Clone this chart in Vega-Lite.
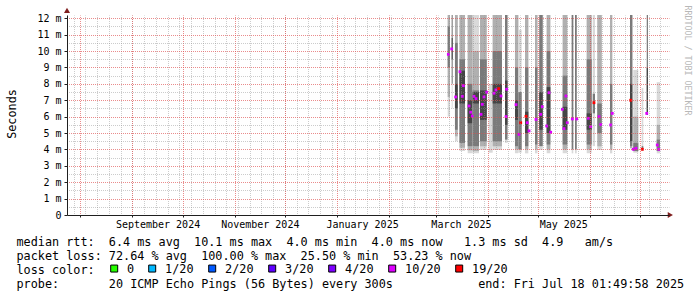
{
  "$schema": "https://vega.github.io/schema/vega-lite/v6.json",
  "width": 602,
  "height": 200,
  "autosize": "none",
  "padding": {"left": 67, "top": 15, "right": 28, "bottom": 82},
  "background": "#ffffff",
  "config": {
    "view": {"stroke": null},
    "font": "DejaVu Sans Mono",
    "axis": {"labelFont": "DejaVu Sans Mono", "titleFont": "DejaVu Sans Mono"},
    "legend": {"labelFont": "DejaVu Sans Mono", "titleFont": "DejaVu Sans Mono"}
  },
  "datasets": {
    "smoke": [
      {"a":"2025-03-08T02:00","b":"2025-03-09T11:00","lo":6.0,"hi":12.2,"band":"L"},
      {"a":"2025-03-08T02:00","b":"2025-03-09T11:00","lo":7.2,"hi":12.2,"band":"M"},
      {"a":"2025-03-08T02:00","b":"2025-03-09T11:00","lo":9.0,"hi":11.5,"band":"D"},
      {"a":"2025-03-10T11:00","b":"2025-03-11T01:00","lo":6.5,"hi":12.2,"band":"L"},
      {"a":"2025-03-10T11:00","b":"2025-03-11T01:00","lo":8.0,"hi":12.2,"band":"D"},
      {"a":"2025-03-10T11:00","b":"2025-03-11T01:00","lo":9.5,"hi":10.8,"band":"K"},
      {"a":"2025-03-12T10:00","b":"2025-03-14T01:00","lo":4.5,"hi":12.2,"band":"L"},
      {"a":"2025-03-12T10:00","b":"2025-03-14T01:00","lo":4.8,"hi":12.2,"band":"M"},
      {"a":"2025-03-12T10:00","b":"2025-03-14T01:00","lo":5.2,"hi":10.5,"band":"D"},
      {"a":"2025-03-12T10:00","b":"2025-03-14T01:00","lo":6.5,"hi":8.0,"band":"K"},
      {"a":"2025-03-15T03:00","b":"2025-03-18T10:00","lo":3.9,"hi":12.2,"band":"L"},
      {"a":"2025-03-15T03:00","b":"2025-03-18T10:00","lo":4.1,"hi":12.2,"band":"M"},
      {"a":"2025-03-15T03:00","b":"2025-03-18T10:00","lo":4.4,"hi":9.5,"band":"D"},
      {"a":"2025-03-15T03:00","b":"2025-03-18T10:00","lo":6.8,"hi":8.8,"band":"K"},
      {"a":"2025-03-20T00:00","b":"2025-03-22T23:00","lo":3.76,"hi":12.2,"band":"L"},
      {"a":"2025-03-20T00:00","b":"2025-03-22T23:00","lo":3.95,"hi":12.2,"band":"M"},
      {"a":"2025-03-20T00:00","b":"2025-03-22T23:00","lo":4.2,"hi":8.0,"band":"D"},
      {"a":"2025-03-20T00:00","b":"2025-03-22T23:00","lo":5.6,"hi":7.0,"band":"K"},
      {"a":"2025-03-22T23:00","b":"2025-03-26T18:00","lo":3.76,"hi":12.2,"band":"L"},
      {"a":"2025-03-22T23:00","b":"2025-03-26T18:00","lo":3.9,"hi":10.0,"band":"M"},
      {"a":"2025-03-22T23:00","b":"2025-03-26T18:00","lo":4.2,"hi":7.6,"band":"D"},
      {"a":"2025-03-22T23:00","b":"2025-03-26T18:00","lo":6.8,"hi":7.5,"band":"K"},
      {"a":"2025-03-27T08:00","b":"2025-03-31T08:00","lo":3.97,"hi":12.2,"band":"L"},
      {"a":"2025-03-27T08:00","b":"2025-03-31T08:00","lo":4.2,"hi":12.2,"band":"M"},
      {"a":"2025-03-27T08:00","b":"2025-03-31T08:00","lo":4.5,"hi":9.5,"band":"D"},
      {"a":"2025-03-27T08:00","b":"2025-03-31T08:00","lo":5.8,"hi":7.6,"band":"K"},
      {"a":"2025-04-01T12:00","b":"2025-04-03T22:00","lo":3.8,"hi":8.0,"band":"L"},
      {"a":"2025-04-03T22:00","b":"2025-04-09T11:00","lo":3.97,"hi":12.2,"band":"L"},
      {"a":"2025-04-03T22:00","b":"2025-04-09T11:00","lo":4.2,"hi":12.2,"band":"M"},
      {"a":"2025-04-03T22:00","b":"2025-04-09T11:00","lo":4.5,"hi":10.0,"band":"D"},
      {"a":"2025-04-03T22:00","b":"2025-04-09T11:00","lo":6.8,"hi":8.0,"band":"K"},
      {"a":"2025-04-11T06:00","b":"2025-04-12T18:00","lo":4.4,"hi":12.2,"band":"L"},
      {"a":"2025-04-11T06:00","b":"2025-04-12T18:00","lo":4.6,"hi":12.2,"band":"D"},
      {"a":"2025-04-11T06:00","b":"2025-04-12T18:00","lo":5.5,"hi":8.2,"band":"K"},
      {"a":"2025-04-17T05:00","b":"2025-04-19T05:00","lo":3.76,"hi":12.2,"band":"L"},
      {"a":"2025-04-17T05:00","b":"2025-04-19T05:00","lo":4.0,"hi":12.2,"band":"M"},
      {"a":"2025-04-17T05:00","b":"2025-04-19T05:00","lo":4.2,"hi":9.0,"band":"D"},
      {"a":"2025-04-17T05:00","b":"2025-04-19T05:00","lo":5.8,"hi":7.0,"band":"K"},
      {"a":"2025-04-19T05:00","b":"2025-04-21T05:00","lo":3.8,"hi":11.3,"band":"L"},
      {"a":"2025-04-19T05:00","b":"2025-04-21T05:00","lo":4.0,"hi":7.5,"band":"D"},
      {"a":"2025-04-23T05:00","b":"2025-04-25T04:00","lo":3.76,"hi":12.2,"band":"L"},
      {"a":"2025-04-23T05:00","b":"2025-04-25T04:00","lo":4.0,"hi":12.2,"band":"M"},
      {"a":"2025-04-23T05:00","b":"2025-04-25T04:00","lo":4.2,"hi":9.0,"band":"D"},
      {"a":"2025-04-23T05:00","b":"2025-04-25T04:00","lo":5.0,"hi":6.3,"band":"K"},
      {"a":"2025-04-29T04:00","b":"2025-04-30T15:00","lo":3.76,"hi":12.2,"band":"L"},
      {"a":"2025-04-29T04:00","b":"2025-04-30T15:00","lo":4.0,"hi":12.2,"band":"M"},
      {"a":"2025-04-29T04:00","b":"2025-04-30T15:00","lo":4.3,"hi":9.0,"band":"D"},
      {"a":"2025-05-01T17:00","b":"2025-05-03T18:00","lo":3.97,"hi":12.2,"band":"L"},
      {"a":"2025-05-01T17:00","b":"2025-05-03T18:00","lo":4.2,"hi":12.2,"band":"D"},
      {"a":"2025-05-01T17:00","b":"2025-05-03T18:00","lo":5.2,"hi":7.5,"band":"K"},
      {"a":"2025-05-06T03:00","b":"2025-05-08T07:00","lo":3.76,"hi":12.2,"band":"L"},
      {"a":"2025-05-06T03:00","b":"2025-05-08T07:00","lo":4.0,"hi":12.2,"band":"M"},
      {"a":"2025-05-06T03:00","b":"2025-05-08T07:00","lo":4.3,"hi":10.0,"band":"D"},
      {"a":"2025-05-06T03:00","b":"2025-05-08T07:00","lo":5.0,"hi":7.8,"band":"K"},
      {"a":"2025-05-15T16:00","b":"2025-05-18T10:00","lo":3.76,"hi":12.2,"band":"L"},
      {"a":"2025-05-15T16:00","b":"2025-05-18T10:00","lo":4.0,"hi":12.2,"band":"M"},
      {"a":"2025-05-15T16:00","b":"2025-05-18T10:00","lo":4.3,"hi":8.5,"band":"D"},
      {"a":"2025-05-15T16:00","b":"2025-05-18T10:00","lo":5.2,"hi":6.6,"band":"K"},
      {"a":"2025-05-21T01:00","b":"2025-05-22T00:00","lo":3.76,"hi":12.2,"band":"L"},
      {"a":"2025-05-21T01:00","b":"2025-05-22T00:00","lo":4.0,"hi":12.2,"band":"D"},
      {"a":"2025-05-23T00:00","b":"2025-05-24T01:00","lo":3.76,"hi":12.2,"band":"L"},
      {"a":"2025-05-23T00:00","b":"2025-05-24T01:00","lo":4.0,"hi":12.2,"band":"D"},
      {"a":"2025-05-30T00:00","b":"2025-06-01T23:00","lo":3.76,"hi":12.2,"band":"L"},
      {"a":"2025-05-30T00:00","b":"2025-06-01T23:00","lo":4.0,"hi":12.2,"band":"M"},
      {"a":"2025-05-30T00:00","b":"2025-06-01T23:00","lo":4.3,"hi":9.5,"band":"D"},
      {"a":"2025-05-30T00:00","b":"2025-06-01T23:00","lo":5.2,"hi":6.2,"band":"K"},
      {"a":"2025-06-02T14:00","b":"2025-06-03T23:00","lo":4.2,"hi":12.2,"band":"L"},
      {"a":"2025-06-02T14:00","b":"2025-06-03T23:00","lo":6.2,"hi":7.4,"band":"D"},
      {"a":"2025-06-05T08:00","b":"2025-06-07T23:00","lo":3.97,"hi":12.2,"band":"L"},
      {"a":"2025-06-05T08:00","b":"2025-06-07T23:00","lo":4.2,"hi":12.2,"band":"M"},
      {"a":"2025-06-05T08:00","b":"2025-06-07T23:00","lo":5.0,"hi":6.8,"band":"D"},
      {"a":"2025-06-12T21:00","b":"2025-06-14T06:00","lo":3.76,"hi":12.2,"band":"L"},
      {"a":"2025-06-12T21:00","b":"2025-06-14T06:00","lo":4.0,"hi":12.2,"band":"M"},
      {"a":"2025-06-12T21:00","b":"2025-06-14T06:00","lo":4.3,"hi":8.0,"band":"D"},
      {"a":"2025-06-24T20:00","b":"2025-06-26T05:00","lo":4.07,"hi":12.2,"band":"M"},
      {"a":"2025-06-24T20:00","b":"2025-06-26T05:00","lo":4.2,"hi":12.2,"band":"D"},
      {"a":"2025-06-24T20:00","b":"2025-06-26T05:00","lo":4.5,"hi":8.0,"band":"K"},
      {"a":"2025-06-26T19:00","b":"2025-06-29T18:00","lo":3.8,"hi":8.85,"band":"L"},
      {"a":"2025-06-26T19:00","b":"2025-06-29T18:00","lo":3.9,"hi":6.0,"band":"M"},
      {"a":"2025-06-26T19:00","b":"2025-06-29T18:00","lo":3.9,"hi":4.4,"band":"D"},
      {"a":"2025-07-01T19:00","b":"2025-07-02T18:00","lo":3.9,"hi":7.75,"band":"L"},
      {"a":"2025-07-01T19:00","b":"2025-07-02T18:00","lo":3.95,"hi":4.2,"band":"D"},
      {"a":"2025-07-04T19:00","b":"2025-07-05T13:00","lo":6.1,"hi":12.2,"band":"D"},
      {"a":"2025-07-04T19:00","b":"2025-07-05T13:00","lo":6.1,"hi":9.0,"band":"K"},
      {"a":"2025-07-10T18:00","b":"2025-07-12T17:00","lo":3.76,"hi":8.1,"band":"L"},
      {"a":"2025-07-10T18:00","b":"2025-07-12T17:00","lo":3.9,"hi":5.5,"band":"M"},
      {"a":"2025-07-10T18:00","b":"2025-07-12T17:00","lo":3.9,"hi":4.6,"band":"D"}
    ],
    "median": [
      {"t":"2025-03-08T11:00","med":9.80,"loss":"10/20"},
      {"t":"2025-03-10T11:00","med":10.13,"loss":"10/20"},
      {"t":"2025-03-12T20:00","med":7.20,"loss":"10/20"},
      {"t":"2025-03-15T10:00","med":8.74,"loss":"10/20"},
      {"t":"2025-03-16T19:00","med":7.24,"loss":"10/20"},
      {"t":"2025-03-17T09:00","med":7.89,"loss":"10/20"},
      {"t":"2025-03-20T19:00","med":6.65,"loss":"10/20"},
      {"t":"2025-03-21T19:00","med":6.27,"loss":"10/20"},
      {"t":"2025-03-22T18:00","med":6.04,"loss":"10/20"},
      {"t":"2025-03-23T18:00","med":7.24,"loss":"10/20"},
      {"t":"2025-03-24T23:00","med":7.10,"loss":"10/20"},
      {"t":"2025-03-27T23:00","med":6.14,"loss":"10/20"},
      {"t":"2025-03-28T17:00","med":6.75,"loss":"10/20"},
      {"t":"2025-03-29T18:00","med":7.20,"loss":"10/20"},
      {"t":"2025-03-31T08:00","med":7.49,"loss":"10/20"},
      {"t":"2025-04-04T17:00","med":7.43,"loss":"10/20"},
      {"t":"2025-04-05T21:00","med":7.63,"loss":"10/20"},
      {"t":"2025-04-07T12:00","med":7.71,"loss":"19/20"},
      {"t":"2025-04-08T21:00","med":7.26,"loss":"10/20"},
      {"t":"2025-04-11T21:00","med":6.00,"loss":"10/20"},
      {"t":"2025-04-12T06:00","med":7.67,"loss":"10/20"},
      {"t":"2025-04-17T20:00","med":6.73,"loss":"10/20"},
      {"t":"2025-04-19T15:00","med":4.92,"loss":"10/20"},
      {"t":"2025-04-20T15:00","med":5.63,"loss":"19/20"},
      {"t":"2025-04-23T19:00","med":6.02,"loss":"19/20"},
      {"t":"2025-04-24T13:00","med":5.63,"loss":"10/20"},
      {"t":"2025-04-25T14:00","med":5.13,"loss":"10/20"},
      {"t":"2025-04-29T18:00","med":5.83,"loss":"10/20"},
      {"t":"2025-05-02T13:00","med":6.14,"loss":"10/20"},
      {"t":"2025-05-03T12:00","med":6.61,"loss":"10/20"},
      {"t":"2025-05-06T03:00","med":5.43,"loss":"10/20"},
      {"t":"2025-05-07T12:00","med":7.46,"loss":"10/20"},
      {"t":"2025-05-08T12:00","med":5.05,"loss":"10/20"},
      {"t":"2025-05-15T11:00","med":6.45,"loss":"10/20"},
      {"t":"2025-05-16T11:00","med":5.27,"loss":"10/20"},
      {"t":"2025-05-17T15:00","med":7.26,"loss":"10/20"},
      {"t":"2025-05-18T10:00","med":5.63,"loss":"10/20"},
      {"t":"2025-05-21T10:00","med":5.86,"loss":"10/20"},
      {"t":"2025-05-24T01:00","med":5.86,"loss":"10/20"},
      {"t":"2025-05-30T23:00","med":5.90,"loss":"10/20"},
      {"t":"2025-06-01T09:00","med":5.39,"loss":"10/20"},
      {"t":"2025-06-03T08:00","med":6.85,"loss":"19/20"},
      {"t":"2025-06-06T08:00","med":6.00,"loss":"10/20"},
      {"t":"2025-06-07T08:00","med":5.51,"loss":"10/20"},
      {"t":"2025-06-13T07:00","med":5.49,"loss":"10/20"},
      {"t":"2025-06-14T06:00","med":6.20,"loss":"10/20"},
      {"t":"2025-06-25T06:00","med":7.00,"loss":"19/20"},
      {"t":"2025-06-26T19:00","med":4.01,"loss":"10/20"},
      {"t":"2025-06-28T10:00","med":4.07,"loss":"10/20"},
      {"t":"2025-07-02T04:00","med":4.01,"loss":"19/20"},
      {"t":"2025-07-04T19:00","med":6.20,"loss":"10/20"},
      {"t":"2025-07-11T02:00","med":4.27,"loss":"10/20"},
      {"t":"2025-07-11T23:00","med":4.01,"loss":"10/20"}
    ]
  },
  "layer": [
    {
      "data": {"name": "smoke"},
      "mark": {"type": "rect"},
      "encoding": {
        "x": {"field": "a", "type": "temporal",
          "scale": {"domain": [{"year": 2024, "month": 7, "date": 24}, {"year": 2025, "month": 7, "date": 18, "hours": 2}], "nice": false},
          "axis": {"orient": "bottom", "tickCount": {"interval": "week", "step": 1}, "grid": true, "gridColor": "#8f8f8f", "gridOpacity": 0.45, "gridDash": [1, 1], "gridDashOffset": 0.5, "labels": false, "ticks": false, "domain": false, "title": null, "zindex": 1}},
        "x2": {"field": "b"},
        "y": {"field": "lo", "type": "quantitative",
          "scale": {"domain": [0, 12.2], "nice": false},
          "axis": {"orient": "left", "values": [0.5, 1.5, 2.5, 3.5, 4.5, 5.5, 6.5, 7.5, 8.5, 9.5, 10.5, 11.5], "grid": true, "gridColor": "#8f8f8f", "gridOpacity": 0.45, "gridDash": [1, 1], "gridDashOffset": 0.5, "labels": false, "ticks": false, "domain": false, "title": null, "zindex": 1}},
        "y2": {"field": "hi"},
        "fill": {"field": "band", "type": "nominal", "scale": {"domain": ["L", "M", "D", "K"], "range": ["#d9d9d9", "#b0b0b0", "#7a7a7a", "#454545"]}, "legend": null}
      }
    },
    {
      "data": {"name": "median"},
      "mark": {"type": "point", "shape": "square", "filled": true, "size": 8, "opacity": 1},
      "encoding": {
        "x": {"field": "t", "type": "temporal",
          "scale": {"domain": [{"year": 2024, "month": 7, "date": 24}, {"year": 2025, "month": 7, "date": 18, "hours": 2}], "nice": false},
          "axis": {"orient": "bottom", "tickCount": {"interval": "month", "step": 1}, "grid": true, "gridColor": "#de4f4f", "gridOpacity": 0.65, "gridDash": [1, 1], "gridDashOffset": 0.5, "labels": false, "ticks": true, "tickSize": 2, "tickColor": "#1f1f1f", "domain": false, "title": null, "zindex": 1}},
        "y": {"field": "med", "type": "quantitative",
          "scale": {"domain": [0, 12.2], "nice": false},
          "axis": {"orient": "left", "values": [0, 1, 2, 3, 4, 5, 6, 7, 8, 9, 10, 11, 12], "grid": true, "gridColor": "#de4f4f",
            "gridOpacity": {"condition": {"test": "datum.value === 0", "value": 0}, "value": 0.65}, "gridDash": [1, 1], "gridDashOffset": 0.5,
            "labelExpr": "datum.value === 0 ? '0' : datum.value + ' m'", "labelFontSize": 10, "labelColor": "#000000", "labelPadding": 3,
            "ticks": true, "tickSize": 3, "tickColor": "#1f1f1f", "domain": true, "domainColor": "#1f1f1f",
            "title": "Seconds", "titleFontSize": 11.8, "titleFontWeight": "normal", "titleColor": "#000000",
            "titleAngle": 270, "titleX": -51.7, "titleY": 98.5, "titleBaseline": "alphabetic", "titleAlign": "center", "zindex": 1}},
        "color": {"field": "loss", "type": "nominal",
          "scale": {"domain": ["0", "1/20", "2/20", "3/20", "4/20", "10/20", "19/20"], "range": ["#26ff00", "#00b8ff", "#0059ff", "#5e00ff", "#7e00ff", "#dd00ff", "#ff0000"]},
          "legend": {"orient": "none", "legendX": 41.3, "legendY": 247.5, "direction": "horizontal", "title": null,
            "symbolType": "square", "symbolSize": 49, "symbolStrokeWidth": 1, "symbolStrokeColor": "#000000", "symbolOpacity": 1,
            "labelFontSize": 11.8, "labelColor": "#000000", "labelOffset": 7, "columnPadding": 12, "padding": 0,
            "encode": {"symbols": {"update": {"stroke": {"value": "#000000"}, "strokeWidth": {"value": 1}, "opacity": {"value": 1}}}}}}
      }
    },
    {
      "data": {"values": [{}]},
      "mark": {"type": "point", "shape": "triangle-up", "filled": true, "size": 36, "color": "#801f1f", "opacity": 1},
      "encoding": {
        "x": {"datum": {"year": 2024, "month": 7, "date": 24}, "type": "temporal",
          "scale": {"domain": [{"year": 2024, "month": 7, "date": 24}, {"year": 2025, "month": 7, "date": 18, "hours": 2}], "nice": false},
          "axis": {"orient": "bottom",
            "values": [{"year": 2024, "month": 9, "date": 16}, {"year": 2024, "month": 11, "date": 16}, {"year": 2025, "month": 1, "date": 16}, {"year": 2025, "month": 3, "date": 16}, {"year": 2025, "month": 5, "date": 16}],
            "format": "%B %Y", "labelFontSize": 10, "labelColor": "#000000", "labelPadding": 12, "labelBaseline": "alphabetic", "labelFlush": false, "labelOverlap": false,
            "ticks": false, "grid": false, "domain": true, "domainColor": "#1f1f1f",
            "title": [
              "median rtt:\u00a0\u00a06.4 ms avg\u00a0\u00a010.1 ms max\u00a0\u00a04.0 ms min\u00a0\u00a04.0 ms now\u00a0\u00a0\u00a01.3 ms sd\u00a0\u00a04.9\u00a0\u00a0\u00a0am/s",
              "packet loss: 72.64 % avg\u00a0\u00a0100.00 % max\u00a0\u00a025.50 % min\u00a0\u00a053.23 % now",
              "loss color:",
              "probe:\u00a0\u00a0\u00a0\u00a0\u00a0\u00a0\u00a020 ICMP Echo Pings (56 Bytes) every 300s\u00a0\u00a0\u00a0\u00a0\u00a0\u00a0\u00a0\u00a0\u00a0\u00a0\u00a0\u00a0end: Fri Jul 18 01:49:58 2025"
            ],
            "titleFontSize": 11.8, "titleFontWeight": "normal", "titleColor": "#000000", "titleAlign": "left", "titleAnchor": "start",
            "titleX": -51, "titleY": 30.3, "titleBaseline": "alphabetic", "titleLineHeight": 14.1, "zindex": 1}},
        "y": {"datum": 12.48, "type": "quantitative",
          "scale": {"domain": [0, 12.2], "nice": false},
          "axis": {"orient": "right", "title": "RRDTOOL / TOBI OETIKER", "titleAngle": 90, "titleFontSize": 8.3, "titleFontWeight": "normal", "titleColor": "#b8b8b8",
            "titleX": 15, "titleY": 45, "titleBaseline": "alphabetic", "titleAlign": "center", "labels": false, "ticks": false, "grid": false, "domain": false}}
      }
    },
    {
      "data": {"values": [{}]},
      "mark": {"type": "point", "shape": "triangle-right", "filled": true, "size": 36, "color": "#801f1f", "opacity": 1},
      "encoding": {
        "x": {"datum": {"year": 2025, "month": 7, "date": 18, "hours": 21}, "type": "temporal",
          "scale": {"domain": [{"year": 2024, "month": 7, "date": 24}, {"year": 2025, "month": 7, "date": 18, "hours": 2}], "nice": false},
          "axis": null},
        "y": {"datum": 0, "type": "quantitative",
          "scale": {"domain": [0, 12.2], "nice": false},
          "axis": null}
      }
    }
  ],
  "resolve": {"axis": {"x": "independent", "y": "independent"}}
}
